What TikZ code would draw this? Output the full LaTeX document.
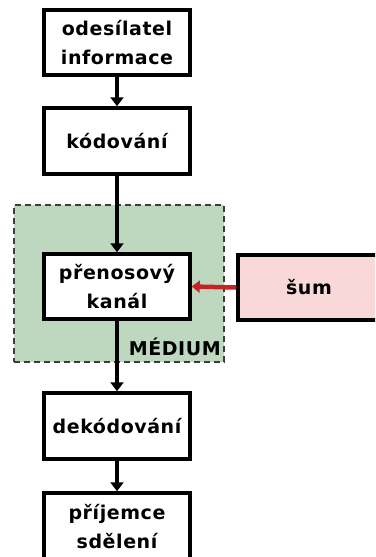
\documentclass[tikz,border=0pt]{standalone}
\usepackage{fontspec}
\newfontfamily\boxfont[LetterSpace=3]{DejaVu Sans Bold}
\usetikzlibrary{arrows.meta}
\definecolor{mediumgreen}{RGB}{190,216,191}
\definecolor{noisepink}{RGB}{249,216,218}
\definecolor{noisered}{RGB}{196,36,38}
\definecolor{dashgray}{RGB}{60,60,60}
\tikzset{
  stage/.style={draw=black, line width=3.5pt, fill=white, minimum width=146pt,
    minimum height=66pt, inner sep=0pt, align=center,
    font=\boxfont\fontsize{19pt}{29pt}\selectfont},
  flow/.style={line width=4pt, -{Triangle[width=13pt,length=9pt]}},
}
\begin{document}
\begin{tikzpicture}[x=1pt,y=-1pt]
  \useasboundingbox (0,0) rectangle (375,557);
  \clip (0,0) rectangle (375,557);

  % transmission medium region
  \node[draw=dashgray, line width=2pt, dash pattern=on 6pt off 4pt,
    fill=mediumgreen, minimum width=210pt, minimum height=157pt, inner sep=0pt]
    (medium) at (119,283.5) {};
  \node[anchor=base east, inner sep=0pt,
    font=\boxfont\fontsize{19pt}{20pt}\selectfont] (mediumlabel) at (221,355) {MÉDIUM};

  % noise source
  \node[stage, fill=noisepink, minimum width=142pt, minimum height=65pt]
    (noise) at (309,287.5) {šum};

  % processing chain
  \node[stage, minimum height=65pt] (sender) at (117,42.5) {odesílatel\\informace};
  \node[stage] (coding) at (117,141) {kódování};
  \node[stage, minimum height=65pt] (channel) at (117,286.5) {přenosový\\kanál};
  \node[stage] (decoding) at (117,426) {dekódování};
  \node[stage, minimum height=68pt] (receiver) at (117,527) {příjemce\\sdělení};

  \draw[flow] (sender) -- (coding);
  \draw[flow] (coding) -- (channel);
  \draw[flow] (channel) -- (decoding);
  \draw[flow] (decoding) -- (receiver);
  \draw[line width=4.5pt, draw=noisered, -{Triangle[width=12pt,length=8pt]}]
    (noise.west) -- (channel.east);
\end{tikzpicture}
\end{document}
